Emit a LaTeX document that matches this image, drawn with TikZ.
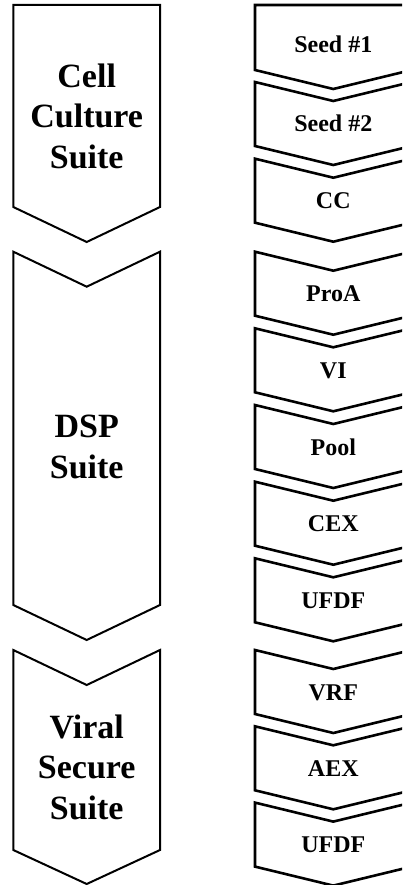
\documentclass[tikz,border=0pt]{standalone}
\usepackage{fontspec}
\setmainfont{Liberation Serif}
\begin{document}
\begin{tikzpicture}[x=1pt,y=-1pt,
  bigchev/.style={draw=black,line width=2pt,fill=white,line join=miter},
  smallchev/.style={draw=black,line width=2.6pt,fill=white,line join=miter},
  bigtext/.style={font=\fontsize{34}{40.6}\selectfont\bfseries,align=center,anchor=base,inner sep=0pt},
  smalltext/.style={font=\fontsize{24}{28}\selectfont\bfseries,anchor=base,inner sep=0pt}]
\useasboundingbox (0,0) rectangle (402,885);
\clip (0,0) rectangle (402,885);
\fill[white] (0,0) rectangle (402,885);
% left column
\draw[bigchev] (13.3,5) -- (160,5) -- (160,207) -- (86.7,242) -- (13.3,207) -- cycle;
\draw[bigchev] (13.3,251.7) -- (86.7,286.7) -- (160,251.7) -- (160,605) -- (86.7,640) -- (13.3,605) -- cycle;
\draw[bigchev] (13.3,650) -- (86.7,685) -- (160,650) -- (160,850) -- (86.7,884) -- (13.3,850) -- cycle;
\node[bigtext] (ccs) at (86.7,168.3) {Cell\\Culture\\Suite};
\node[bigtext] (dsp) at (86.7,478.3) {DSP\\Suite};
\node[bigtext] (vss) at (86.7,819.5) {Viral\\Secure\\Suite};
% right column
\draw[smallchev] (255,5) -- (411.6,5) -- (411.6,70) -- (333.3,89) -- (255,70) -- cycle;
\node[smalltext] (seed1) at (333.3,52.3) {Seed \#1};
\foreach \t/\lab/\nm in {82/Seed \#2/seed2, 158.7/CC/cc,
    251.7/ProA/proa, 328.3/VI/vi, 405/Pool/pool, 481.7/CEX/cex, 558.3/UFDF/ufdfa,
    650/VRF/vrf, 726.3/AEX/aex, 802.6/UFDF/ufdfb}{
  \draw[smallchev] (255,\t) -- (333.3,\t+19) -- (411.6,\t) -- (411.6,\t+64) -- (333.3,\t+83) -- (255,\t+64) -- cycle;
  \node[smalltext] (\nm) at (333.3,\t+50) {\lab};
}
\end{tikzpicture}
\end{document}
